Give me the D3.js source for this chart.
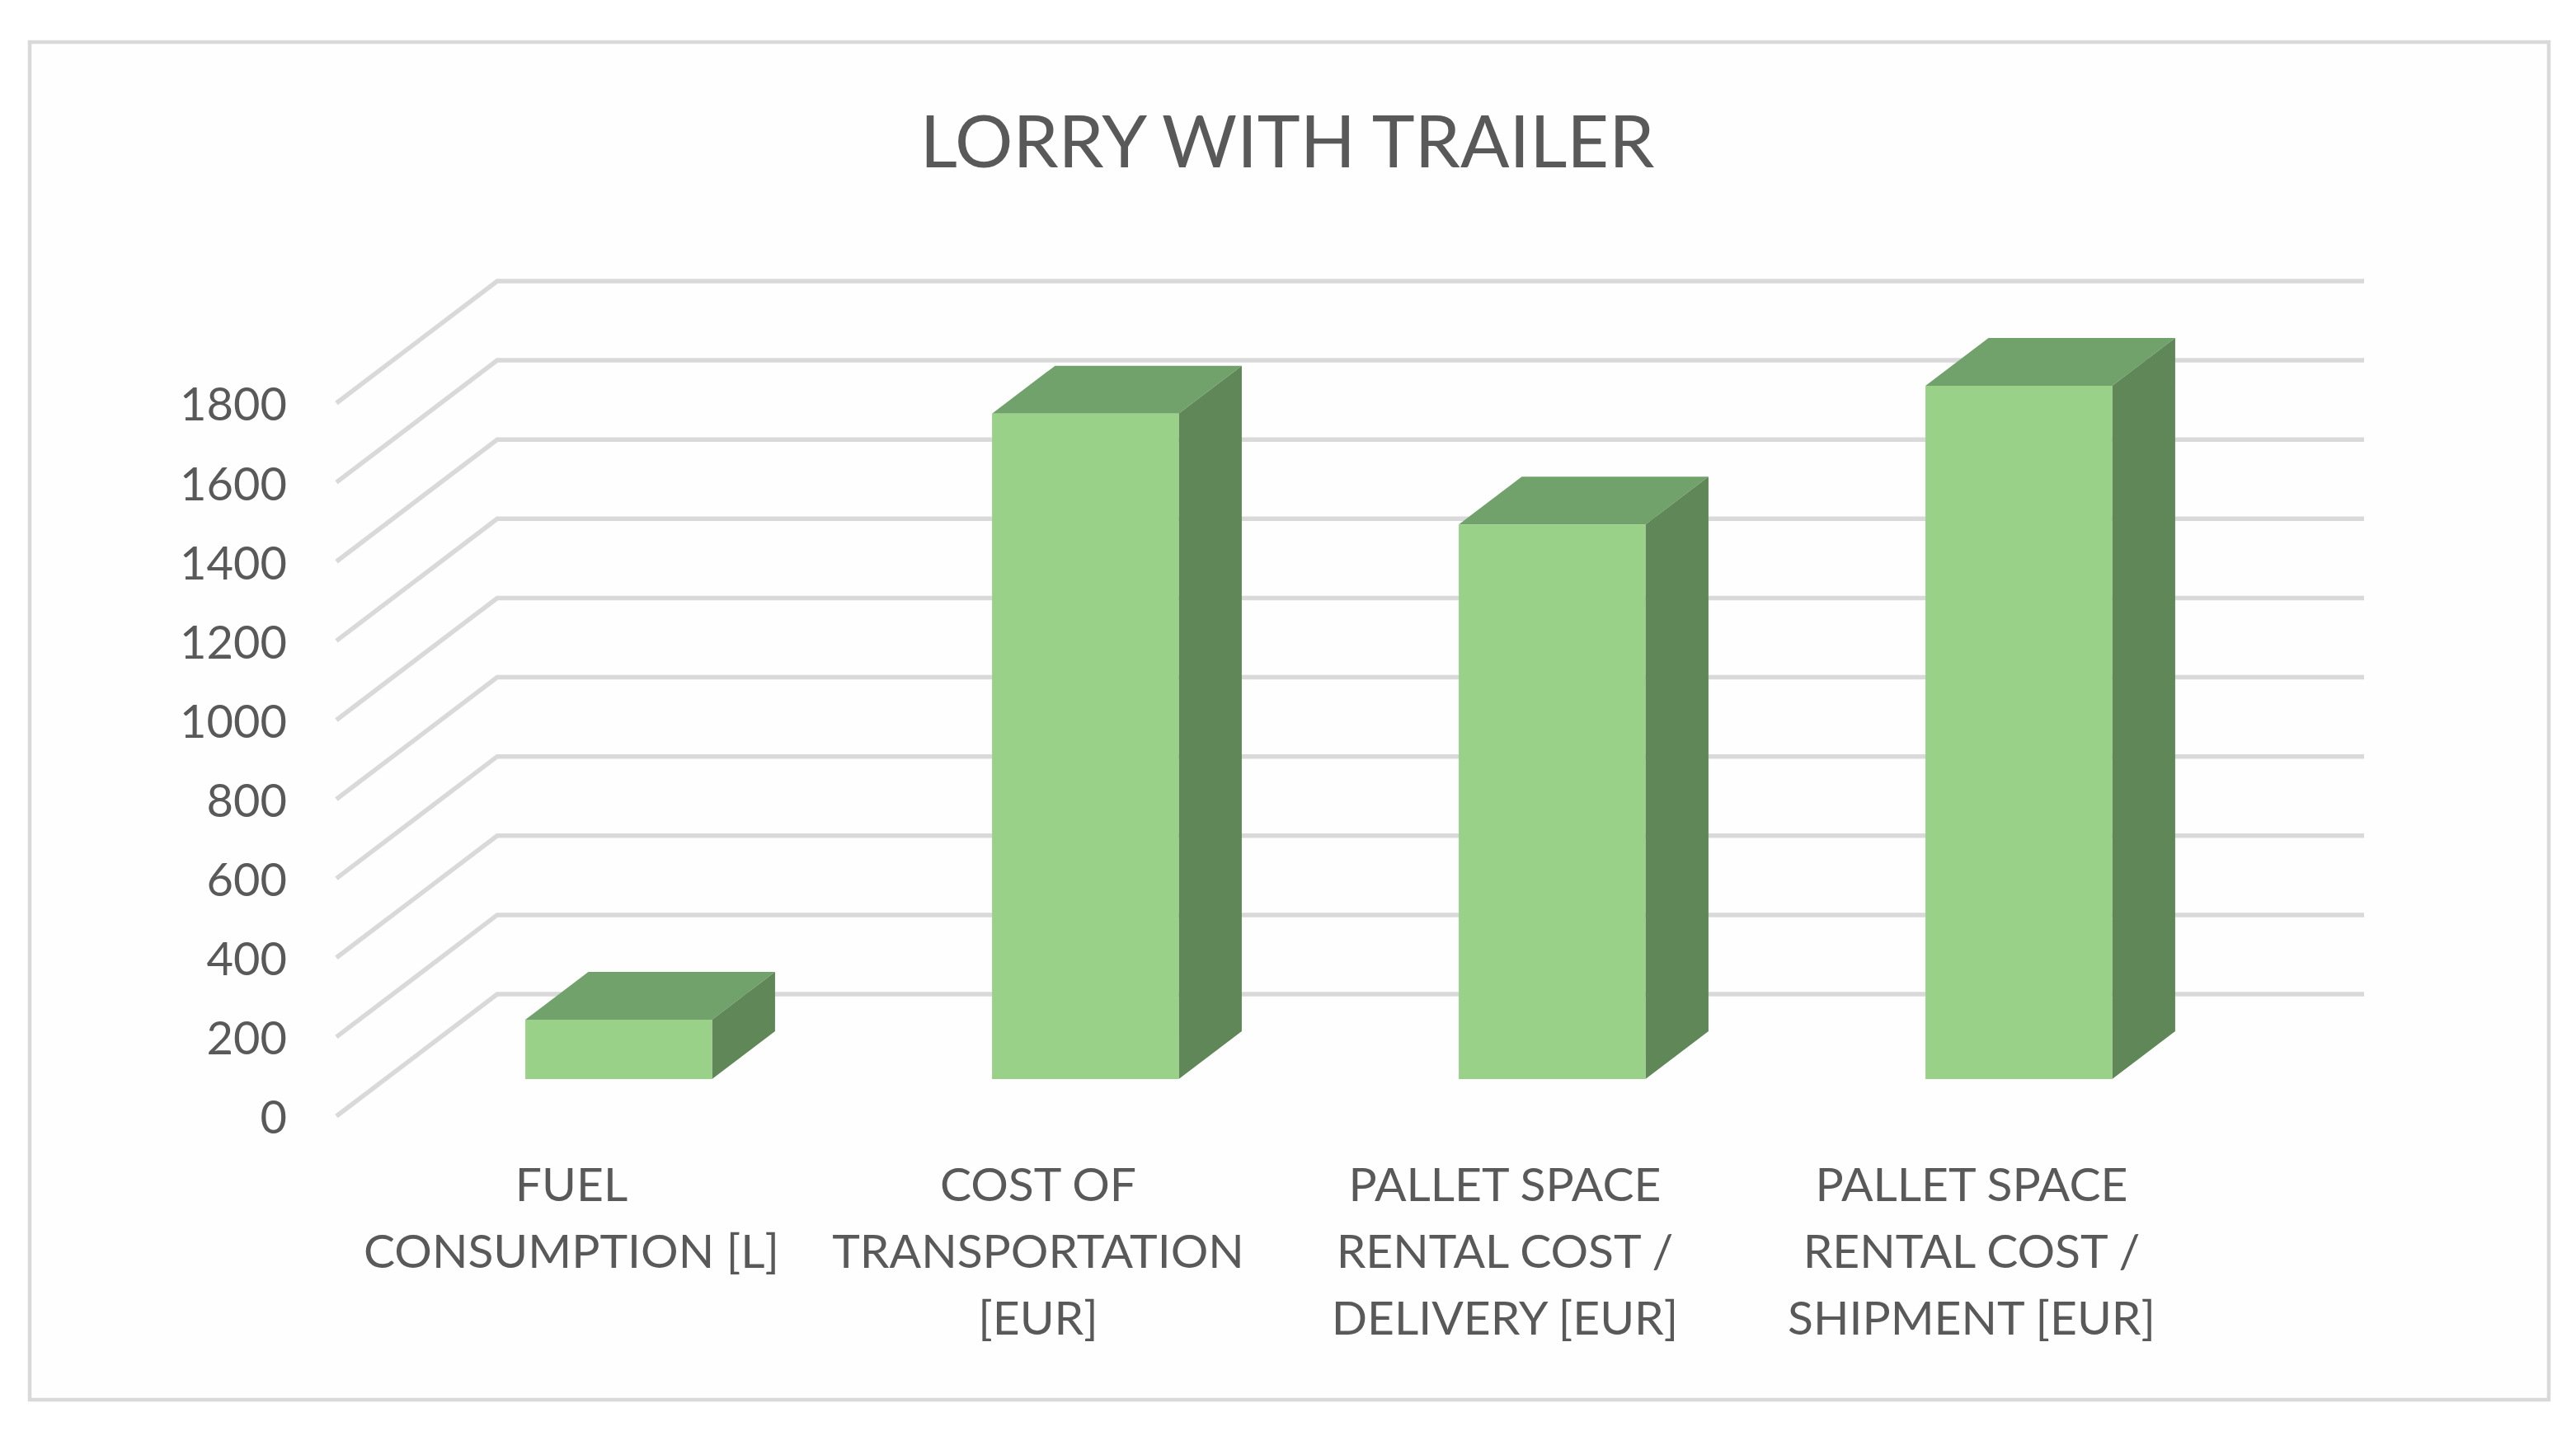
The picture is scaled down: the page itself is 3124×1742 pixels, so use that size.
<!DOCTYPE html>
<html>
<head>
<meta charset="utf-8">
<script src="https://cdn.jsdelivr.net/npm/d3@7"></script>
<style>
  html, body { margin: 0; padding: 0; background: #fff; }
  text { font-family: Lato, "Open Sans", sans-serif; fill: #595959; }
</style>
</head>
<body>
<div id="chart"></div>
<script>
var chartTitle = "LORRY WITH TRAILER";
var categories = [
  ["FUEL", "CONSUMPTION [L]"],
  ["COST OF", "TRANSPORTATION", "[EUR]"],
  ["PALLET SPACE", "RENTAL COST /", "DELIVERY [EUR]"],
  ["PALLET SPACE", "RENTAL COST /", "SHIPMENT [EUR]"]
];
var values = [150, 1680, 1400, 1750];
var yTicks = [0, 200, 400, 600, 800, 1000, 1200, 1400, 1600, 1800];

var width = 3124, height = 1742;

var svg = d3.select("#chart").append("svg")
    .attr("width", width)
    .attr("height", height)
    .style("display", "block");

// outer frame of the chart area
svg.append("rect")
    .attr("x", 36)
    .attr("y", 51)
    .attr("width", 3055)
    .attr("height", 1647)
    .attr("fill", "#fefefe")
    .attr("stroke", "#d9d9d9")
    .attr("stroke-width", 4.5);

svg.append("text")
    .attr("x", 1561)
    .attr("y", 203)
    .attr("text-anchor", "middle")
    .style("font-size", "88px")
    .text(chartTitle);

// front plane scales, the depth is added by project()
var x = d3.scaleBand()
    .domain(d3.range(categories.length))
    .range([408, 2672])
    .paddingInner(0.6)
    .paddingOuter(0.3);

var y = d3.scaleLinear()
    .domain([0, 1800])
    .range([1354, 489]);

var depthX = 195, depthY = 148;
var barFront = 0.304, barBack = 0.696;

function project(px, value, depth) {
  return [px + depth * depthX, y(value) - depth * depthY];
}

var line = d3.line();

// walls: one diagonal and one back line per tick
svg.append("g").selectAll("path")
    .data(yTicks)
    .enter()
    .append("path")
    .attr("fill", "none")
    .attr("stroke", "#d9d9d9")
    .attr("stroke-width", 5.5)
    .attr("d", function(d) {
      return line([project(x.range()[0], d, 0), project(x.range()[0], d, 1), project(x.range()[1], d, 1)]);
    });

var yAxis = d3.axisLeft(y)
    .tickValues(yTicks)
    .tickFormat(d3.format("d"))
    .tickSize(0)
    .tickPadding(60);

var yGroup = svg.append("g")
    .attr("transform", "translate(408,3)")
    .call(yAxis);
yGroup.select(".domain").remove();
yGroup.selectAll("text")
    .style("font-family", "Lato")
    .style("font-size", "56px")
    .attr("fill", "#595959");

var bar = svg.append("g").selectAll("g")
    .data(values)
    .enter()
    .append("g");

// top
bar.append("path")
    .attr("fill", "#72a26b")
    .attr("d", function(d, i) {
      var l = x(i), r = x(i) + x.bandwidth();
      return line([project(l, d, barFront), project(l, d, barBack), project(r, d, barBack), project(r, d, barFront)]) + "Z";
    });

// side
bar.append("path")
    .attr("fill", "#5f8757")
    .attr("d", function(d, i) {
      var r = x(i) + x.bandwidth();
      return line([project(r, 0, barFront), project(r, d, barFront), project(r, d, barBack), project(r, 0, barBack)]) + "Z";
    });

// front
bar.append("path")
    .attr("fill", "#99d189")
    .attr("d", function(d, i) {
      var l = x(i), r = x(i) + x.bandwidth();
      return line([project(l, 0, barFront), project(l, d, barFront), project(r, d, barFront), project(r, 0, barFront)]) + "Z";
    });

var catLabel = svg.append("g").selectAll("text")
    .data(categories)
    .enter()
    .append("text")
    .attr("text-anchor", "middle")
    .style("font-size", "57px");

catLabel.selectAll("tspan")
    .data(function(d, i) {
      return d.map(function(t) { return { text: t, cat: i }; });
    })
    .enter()
    .append("tspan")
    .attr("x", function(d) { return x(d.cat) + x.bandwidth() / 2 + 2; })
    .attr("y", function(d, i) { return 1457 + i * 81; })
    .text(function(d) { return d.text; });
</script>
</body>
</html>
